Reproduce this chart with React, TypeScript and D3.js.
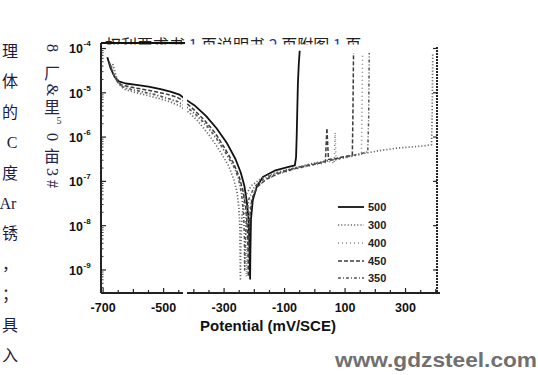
import React from "react";
import * as d3 from "d3";

const W = 538;
const H = 375;

// ---- data ----
const xTickValues = [-700, -500, -300, -100, 100, 300];
const yTickExponents = [-4, -5, -6, -7, -8, -9];
const legendNames = ["500", "300", "400", "450", "350"];
const headerParts = ["权利要求书 ", "1", " 页说明书 ", "2", " 页附图 ", "1", " 页"];
const sideChars = ["理", "体", "的", "C", "度", "Ar", "锈", "，", "；", "具", "入"];
const yLabelGlyphs = ["8", "厂", "&", "里", "5", "0", "亩", "3", "#"];

// [potential mV/SCE, log10 current density]
const curve500: [number, number][] = [
  [-686, -4.2], [-675, -4.45], [-662, -4.64], [-648, -4.74], [-625, -4.79], [-590, -4.82],
  [-550, -4.86], [-510, -4.92], [-475, -4.98], [-448, -5.04], [-425, -5.16], [-395, -5.3],
  [-360, -5.52], [-325, -5.8], [-292, -6.12], [-262, -6.5], [-245, -6.8], [-233, -7.1],
  [-225, -7.45], [-219, -7.85], [-216, -8.5], [-214, -9.2], [-213, -8.6], [-211, -7.85],
  [-205, -7.42], [-192, -7.12], [-172, -6.9], [-130, -6.75], [-90, -6.68], [-66, -6.64],
  [-62, -6.45], [-60, -6.0], [-58, -5.4], [-56, -4.8], [-53, -4.35], [-50, -4.05],
];
const curve300: [number, number][] = [
  [-668, -4.35], [-658, -4.6], [-648, -4.8], [-630, -4.92], [-600, -4.98], [-560, -5.05],
  [-520, -5.12], [-480, -5.2], [-445, -5.3], [-415, -5.45], [-385, -5.65], [-350, -5.95],
  [-315, -6.3], [-285, -6.65], [-268, -6.95], [-257, -7.25], [-251, -7.6], [-248, -8.0],
  [-247, -8.6], [-246, -9.2], [-245, -8.5], [-241, -7.8], [-232, -7.35], [-210, -7.1],
  [-175, -6.92], [-130, -6.8], [-80, -6.72], [-30, -6.63], [20, -6.56], [70, -6.5],
  [120, -6.43], [170, -6.36], [220, -6.3], [270, -6.25], [320, -6.22], [360, -6.2],
  [386, -6.17], [388, -5.5], [389, -4.8], [390, -4.1],
];
const curve400: [number, number][] = [
  [-672, -4.4], [-662, -4.62], [-650, -4.78], [-635, -4.88], [-605, -4.94], [-565, -5.0],
  [-525, -5.06], [-485, -5.14], [-450, -5.22], [-425, -5.32], [-395, -5.5], [-360, -5.75],
  [-325, -6.05], [-292, -6.4], [-262, -6.75], [-248, -7.0], [-238, -7.3], [-232, -7.65],
  [-229, -8.05], [-227, -8.6], [-226, -9.15], [-224, -8.5], [-220, -7.85], [-212, -7.45],
  [-195, -7.15], [-165, -6.97], [-125, -6.85], [-75, -6.74], [-25, -6.66], [20, -6.6],
  [55, -6.55], [64, -6.6], [67, -5.9], [70, -6.52], [90, -6.48], [120, -6.44],
  [145, -6.4], [154, -6.38], [156, -5.5], [157, -4.8], [158, -4.1],
];
const curve450: [number, number][] = [
  [-680, -4.3], [-668, -4.55], [-655, -4.72], [-640, -4.82], [-610, -4.87], [-570, -4.92],
  [-530, -4.97], [-490, -5.03], [-455, -5.1], [-430, -5.2], [-400, -5.38], [-365, -5.62],
  [-330, -5.9], [-298, -6.25], [-268, -6.6], [-250, -6.9], [-238, -7.2], [-229, -7.55],
  [-224, -7.95], [-221, -8.5], [-220, -9.15], [-218, -8.5], [-215, -7.8], [-208, -7.4],
  [-190, -7.12], [-160, -6.95], [-120, -6.82], [-70, -6.72], [-20, -6.64], [20, -6.58],
  [35, -6.55], [40, -5.8], [45, -6.5], [60, -6.5], [90, -6.45], [115, -6.42],
  [124, -6.4], [126, -5.5], [127, -4.8], [128, -4.1],
];
const curve350: [number, number][] = [
  [-675, -4.38], [-664, -4.6], [-652, -4.76], [-638, -4.86], [-608, -4.92], [-568, -4.98],
  [-528, -5.04], [-488, -5.12], [-452, -5.2], [-428, -5.3], [-398, -5.46], [-362, -5.7],
  [-328, -6.0], [-295, -6.35], [-265, -6.7], [-252, -6.95], [-242, -7.3], [-236, -7.7],
  [-233, -8.2], [-232, -9.0], [-230, -8.4], [-226, -7.8], [-218, -7.4], [-200, -7.12],
  [-170, -6.95], [-130, -6.82], [-80, -6.72], [-30, -6.64], [20, -6.57], [70, -6.5],
  [120, -6.42], [160, -6.36], [175, -6.33], [178, -5.6], [179, -4.8], [180, -4.1],
];

const seriesData = [curve500, curve300, curve400, curve450, curve350];
const seriesStyle = [
  { stroke: "#111", dash: "", width: 1.8 },
  { stroke: "#6a6a6a", dash: "1.2 2", width: 1.7 },
  { stroke: "#8a8a8a", dash: "1 3", width: 1.6 },
  { stroke: "#3c3c3c", dash: "4 2", width: 1.5 },
  { stroke: "#555", dash: "3 2 1 2", width: 1.5 },
];

// ---- layout ----
const PL = 101, PR = 437, PT = 43, PB = 293;
const x = d3.scaleLinear().domain([-707, 404]).range([PL, PR]);
const y = d3.scaleLog().domain([Math.pow(10, -9.52), Math.pow(10, -3.876)]).range([PB, PT]);

const line = d3
  .line<[number, number]>()
  .x((d) => x(d[0]))
  .y((d) => y(Math.pow(10, d[1])));

const boldFont = "'Liberation Sans', Arial, sans-serif";

export default function App() {
  const minorY: number[] = [];
  for (let e = -10; e <= -4; e++) {
    for (let m = 2; m <= 9; m++) {
      const v = m * Math.pow(10, e);
      if (v > y.domain()[0] && v < y.domain()[1]) minorY.push(v);
    }
  }
  const xTicks: number[] = [];
  for (let v = -700; v <= 400; v += 50) xTicks.push(v);

  const legendRows = [207, 225, 243, 261, 278];

  return (
    <svg
      width={W}
      height={H}
      style={{ position: "absolute", left: 0, top: 0, background: "#fff" }}
      xmlns="http://www.w3.org/2000/svg"
    >
      <defs>
        <clipPath id="hdrClip">
          <rect x={90} y={30} width={300} height={14.5} />
        </clipPath>
      </defs>
      <rect x={0} y={0} width={W} height={H} fill="#fff" />

      {/* left column of page text */}
      {sideChars.map((c, i) => (
        <text
          key={i}
          x={c === "Ar" ? 8 : c === "C" ? 12 : 10}
          y={57 + i * 30.4}
          textAnchor="middle"
          fontSize={16}
          fill="#1e1a40"
          fontFamily="'Liberation Serif', 'Noto Sans CJK SC', serif"
        >
          {c}
        </text>
      ))}

      {/* garbled rotated axis title */}
      {yLabelGlyphs.map((g, i) => {
        const ys = [48, 73, 90, 107, 120, 137, 156, 172, 184];
        const latin = /[0-9&#]/.test(g) && g !== "5";
        const cx = g === "5" ? 59 : 52;
        const fs = g === "5" ? 10 : 16;
        return (
          <text
            key={i}
            x={0}
            y={0}
            transform={`translate(${cx},${ys[i]}) rotate(${latin ? 90 : 0})`}
            textAnchor="middle"
            dominantBaseline="central"
            fontSize={fs}
            fill="#25254a"
            fontFamily="'Liberation Serif', 'Noto Sans CJK SC', serif"
          >
            {g}
          </text>
        );
      })}

      {/* clipped header line */}
      <g clipPath="url(#hdrClip)">
        <text x={105} y={51} fontSize={16} fill="#222" fontFamily="'Noto Sans CJK SC', sans-serif">
          {headerParts.map((p, i) => (
            <tspan key={i} fill={/\d/.test(p) ? "#1f3fa8" : "#222"}>
              {p}
            </tspan>
          ))}
        </text>
      </g>

      {/* frame */}
      <line x1={PL} y1={PT} x2={185} y2={PT} stroke="#111" strokeWidth={2} />
      <line x1={PL} y1={PT} x2={PL} y2={PB} stroke="#222" strokeWidth={2} />
      <line x1={PL} y1={PB} x2={PR + 3} y2={PB} stroke="#222" strokeWidth={1.8} />
      <line x1={PR} y1={47} x2={PR} y2={PB} stroke="#222" strokeWidth={2} strokeDasharray="2 1" />

      {/* y ticks */}
      {minorY.map((v, i) => (
        <line key={"my" + i} x1={PL} x2={PL + 2.5} y1={y(v)} y2={y(v)} stroke="#333" strokeWidth={1} />
      ))}
      {yTickExponents.map((e) => (
        <g key={"yt" + e}>
          <line x1={PL} x2={PL + 5} y1={y(Math.pow(10, e))} y2={y(Math.pow(10, e))} stroke="#222" strokeWidth={1.2} />
          <line x1={PR - 4} x2={PR} y1={y(Math.pow(10, e))} y2={y(Math.pow(10, e))} stroke="#222" strokeWidth={1.2} />
          <text x={83} y={y(Math.pow(10, e)) + 5} textAnchor="end" fontSize={12.5} fontWeight="bold" fill="#111" fontFamily={boldFont}>
            10
          </text>
          <text x={83.5} y={y(Math.pow(10, e)) - 2} fontSize={8} fontWeight="bold" fill="#111" fontFamily={boldFont}>
            {"-" + String(-e)}
          </text>
        </g>
      ))}

      {/* x ticks */}
      {xTicks.map((v) => (
        <line
          key={"xt" + v}
          x1={x(v)}
          x2={x(v)}
          y1={PB}
          y2={PB - (v % 200 === 100 || v % 200 === -100 ? 5 : v % 100 === 0 ? 4 : 3)}
          stroke="#222"
          strokeWidth={1.2}
        />
      ))}
      {xTickValues.map((v) => (
        <text key={"xl" + v} x={x(v)} y={312} textAnchor="middle" fontSize={12.5} fontWeight="bold" fill="#111" fontFamily={boldFont}>
          {String(v)}
        </text>
      ))}
      <text x={268} y={331} textAnchor="middle" fontSize={15} fontWeight="bold" fill="#111" fontFamily={boldFont}>
        Potential (mV/SCE)
      </text>

      {/* curves */}
      {seriesData.map((d, i) => (
        <path
          key={"c" + i}
          d={line(d) || ""}
          fill="none"
          stroke={seriesStyle[i].stroke}
          strokeWidth={seriesStyle[i].width}
          strokeDasharray={seriesStyle[i].dash}
          strokeLinejoin="round"
        />
      ))}

      {/* scan gap */}
      <rect x={183} y={46} width={4} height={250} fill="#fff" />

      {/* legend */}
      {legendNames.map((n, i) => (
        <g key={"lg" + i}>
          <line
            x1={338}
            x2={364}
            y1={legendRows[i]}
            y2={legendRows[i]}
            stroke={seriesStyle[i].stroke}
            strokeWidth={seriesStyle[i].width}
            strokeDasharray={seriesStyle[i].dash}
          />
          <text x={368} y={legendRows[i] + 4} fontSize={11} fontWeight="bold" fill="#222" fontFamily={boldFont}>
            {n}
          </text>
        </g>
      ))}

      {/* watermark */}
      <text x={335} y={367} fontSize={21} fontWeight="bold" fill="#707070" fontFamily={boldFont} textLength={202} lengthAdjust="spacingAndGlyphs">
        www.gdzsteel.com
      </text>
    </svg>
  );
}
